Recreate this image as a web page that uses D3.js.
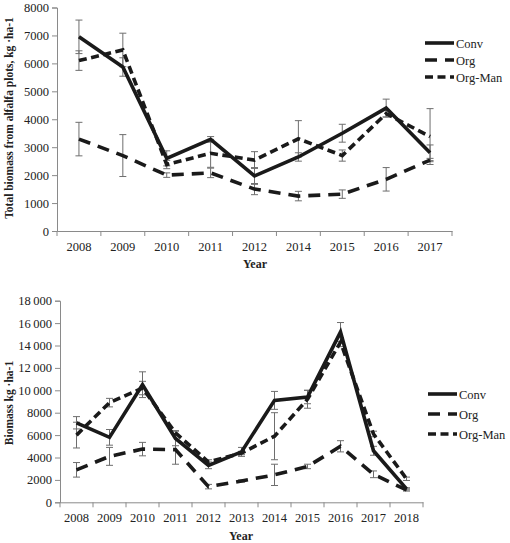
<!DOCTYPE html>
<html>
<head>
<meta charset="utf-8">
<script src="https://cdn.jsdelivr.net/npm/d3@7"></script>
<style>
  body { margin: 0; background: #fff; }
  svg text { font-family: "Liberation Serif", "Times New Roman", serif; fill: #222; }
</style>
</head>
<body>
<svg id="chart" width="510" height="543"></svg>
<script>
// ---- Data: top chart (alfalfa plots) ----
const years1 = ["2008","2009","2010","2011","2012","2014","2015","2016","2017"];
const conv1 = [6950, 5870, 2600, 3280, 1970, 2650, 3500, 4400, 2800];
const org1 = [3290, 2700, 2000, 2080, 1500, 1250, 1320, 1850, 2540];
const orgMan1 = [6100, 6480, 2380, 2780, 2540, 3300, 2700, 4200, 3380];
const convErr1 = [600, 330, 270, 100, 300, 150, 320, 320, 280];
const orgErr1 = [600, 750, 80, 170, 200, 170, 150, 420, 60];
const orgManErr1 = [350, 600, 150, 500, 300, 650, 200, 120, 1000];
const yTicks1 = [0, 1000, 2000, 3000, 4000, 5000, 6000, 7000, 8000];

// ---- Data: bottom chart ----
const years2 = ["2008","2009","2010","2011","2012","2013","2014","2015","2016","2017","2018"];
const conv2 = [7100, 5800, 10500, 5700, 3300, 4500, 9100, 9400, 15200, 4600, 1200];
const org2 = [2900, 4100, 4750, 4700, 1400, 1900, 2450, 3200, 5000, 2500, 1100];
const orgMan2 = [6000, 8900, 10200, 6200, 3600, 4400, 5900, 9200, 14300, 6100, 2100];
const convErr2 = [550, 700, 1150, 650, 300, 400, 800, 600, 850, 400, 100];
const orgErr2 = [650, 800, 600, 1300, 200, 100, 950, 200, 500, 300, 100];
const orgManErr2 = [1150, 380, 600, 200, 200, 150, 2100, 800, 400, 250, 150];
const yTicks2 = [0, 2000, 4000, 6000, 8000, 10000, 12000, 14000, 16000, 18000];

const seriesNames = ["Conv", "Org", "Org-Man"];
const dashes = { "Conv": null, "Org": "12,8", "Org-Man": "8,4.5" };

const svg = d3.select("#chart");

function drawPanel(cfg) {
  const x = d3.scaleBand().domain(cfg.years).range([cfg.x0, cfg.x1]).paddingInner(0).paddingOuter(0);
  const y = d3.scaleLinear().domain([0, cfg.yMax]).range([cfg.y0, cfg.y1]);
  const cx = d => x(d) + x.bandwidth() / 2;
  const g = svg.append("g");

  // y axis
  const yAxis = d3.axisLeft(y).tickValues(cfg.yTicks).tickSize(5).tickPadding(3)
    .tickFormat(cfg.yFormat);
  const ya = g.append("g").attr("transform", `translate(${cfg.x0},0)`).call(yAxis);
  ya.select(".domain").attr("stroke", "#8a8a8a");
  ya.selectAll(".tick line").attr("stroke", "#8a8a8a");
  ya.selectAll("text").style("font-size", "12.5px").attr("fill", "#222");

  // x axis (labels at band centres, ticks at band boundaries)
  const xAxis = d3.axisBottom(x).tickSize(0).tickPadding(11);
  const xa = g.append("g").attr("transform", `translate(0,${cfg.y0})`).call(xAxis);
  xa.select(".domain").attr("stroke", "#8a8a8a");
  xa.selectAll("text").style("font-size", "12.5px").attr("fill", "#222");
  const bounds = cfg.years.map(d => x(d)).concat([x.range()[1]]);
  g.selectAll(".btick").data(bounds).enter().append("line")
    .attr("x1", d => d).attr("x2", d => d)
    .attr("y1", cfg.y0).attr("y2", cfg.y0 + 5)
    .attr("stroke", "#8a8a8a");

  // titles
  g.append("text").attr("x", cfg.xTitleX).attr("y", cfg.xTitleY)
    .attr("text-anchor", "middle").style("font-size", "12px").style("font-weight", "bold")
    .text("Year");
  g.append("text")
    .attr("transform", `translate(${cfg.yTitleX},${cfg.yTitleY}) rotate(-90)`)
    .attr("text-anchor", "middle").style("font-size", "11.5px").style("font-weight", "bold")
    .text(cfg.yTitle);

  const series = [
    { name: "Conv", vals: cfg.conv, err: cfg.convErr },
    { name: "Org", vals: cfg.org, err: cfg.orgErr },
    { name: "Org-Man", vals: cfg.orgMan, err: cfg.orgManErr }
  ];

  // error bars
  series.forEach(s => {
    const eg = g.append("g");
    cfg.years.forEach((yr, i) => {
      const xc = cx(yr);
      const hi = y(s.vals[i] + s.err[i]), lo = y(s.vals[i] - s.err[i]);
      eg.append("line").attr("x1", xc).attr("x2", xc).attr("y1", hi).attr("y2", lo)
        .attr("stroke", "#6e6e6e").attr("stroke-width", 1);
      [hi, lo].forEach(v => eg.append("line").attr("x1", xc - 3.5).attr("x2", xc + 3.5)
        .attr("y1", v).attr("y2", v).attr("stroke", "#6e6e6e").attr("stroke-width", 1));
    });
  });

  // lines
  const line = d3.line().x(d => cx(d.yr)).y(d => y(d.v));
  series.forEach(s => {
    const pts = cfg.years.map((yr, i) => ({ yr, v: s.vals[i] }));
    g.append("path").datum(pts).attr("d", line)
      .attr("fill", "none").attr("stroke", "#1a1a1a").attr("stroke-width", 3.6)
      .attr("stroke-dasharray", dashes[s.name]);
  });

  // legend
  seriesNames.forEach((n, i) => {
    const ly = cfg.legY + i * cfg.legGap;
    g.append("line").attr("x1", cfg.legX).attr("x2", cfg.legX + cfg.legLen)
      .attr("y1", ly).attr("y2", ly).attr("stroke", "#1a1a1a").attr("stroke-width", 3.6)
      .attr("stroke-dasharray", dashes[n]);
    g.append("text").attr("x", cfg.legX + cfg.legLen + 2).attr("y", ly + 4.5)
      .style("font-size", "12.5px").text(n);
  });
}

drawPanel({
  years: years1, conv: conv1, org: org1, orgMan: orgMan1,
  convErr: convErr1, orgErr: orgErr1, orgManErr: orgManErr1,
  yTicks: yTicks1, yMax: 8000, yFormat: d3.format("d"),
  x0: 57, x1: 452, y0: 231, y1: 7.5,
  xTitleX: 255, xTitleY: 268, yTitleX: 13, yTitleY: 118,
  yTitle: "Total biomass from alfalfa plots, kg \u00B7ha-1",
  legX: 425, legY: 43, legGap: 17, legLen: 29
});

drawPanel({
  years: years2, conv: conv2, org: org2, orgMan: orgMan2,
  convErr: convErr2, orgErr: orgErr2, orgManErr: orgManErr2,
  yTicks: yTicks2, yMax: 18000,
  yFormat: d => d >= 10000 ? d3.format("d")(Math.floor(d / 1000)) + "\u2009" + d3.format("03d")(d % 1000) : d3.format("d")(d),
  x0: 60, x1: 423, y0: 502.3, y1: 300.7,
  xTitleX: 241, xTitleY: 540, yTitleX: 13, yTitleY: 403,
  yTitle: "Biomass kg \u00B7ha-1",
  legX: 428, legY: 394, legGap: 20, legLen: 29
});
</script>
</body>
</html>
